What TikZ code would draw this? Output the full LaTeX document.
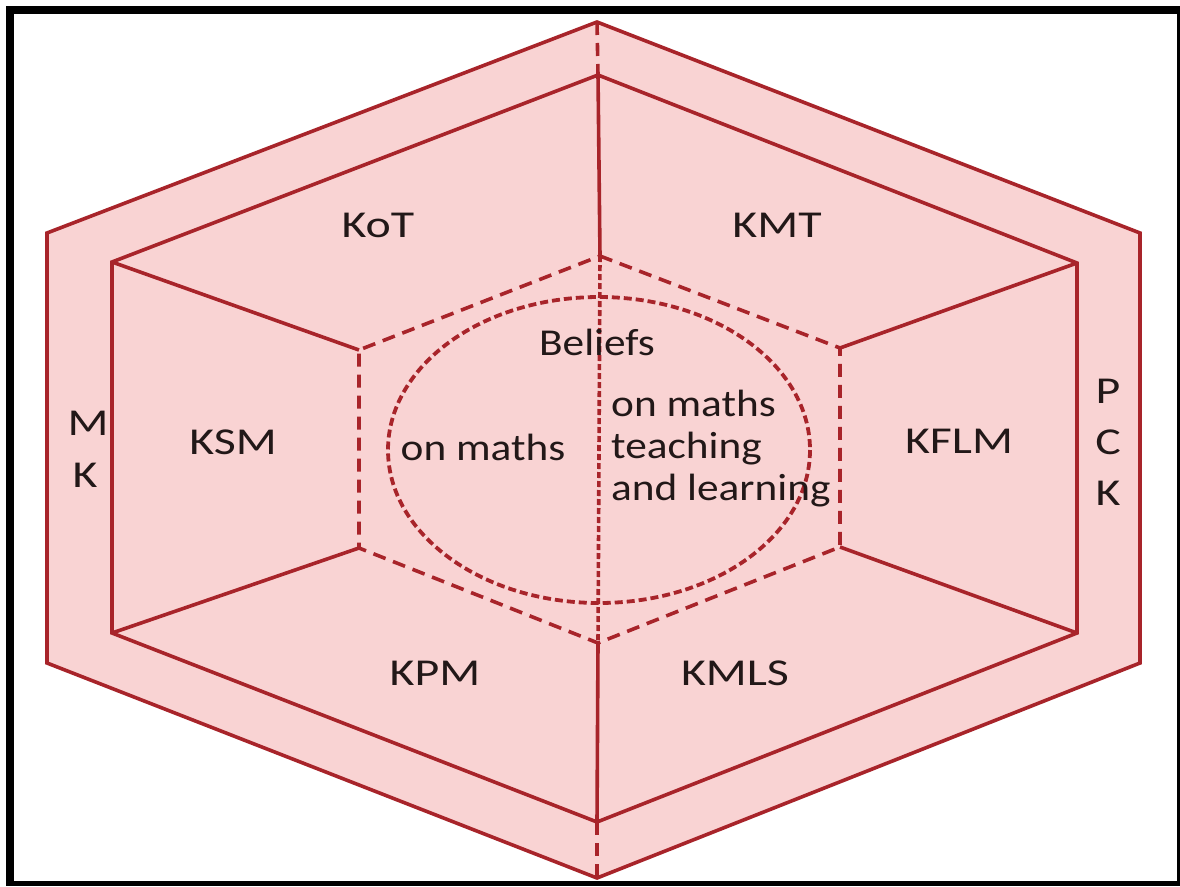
\documentclass[tikz,border=0pt]{standalone}
\usepackage{fontspec}
\setmainfont{Carlito}
\usepackage{graphicx}
\definecolor{hexfill}{RGB}{249,211,211}
\definecolor{hexline}{RGB}{168,36,42}
\definecolor{txt}{RGB}{34,24,24}
\newcommand{\capsx}[1]{\scalebox{1.26}[1]{#1}}
\newcommand{\lowsx}[1]{\scalebox{1.14}[1]{#1}}
\begin{document}
\begin{tikzpicture}[x=1pt,y=-1pt,
  edgeline/.style={draw=hexline,line width=3.6pt,line join=miter},
  dashline/.style={draw=hexline,line width=3.6pt,dash pattern=on 13pt off 8pt},
  fineline/.style={draw=hexline,line width=3.6pt,dash pattern=on 6pt off 3pt},
  ovaline/.style={draw=hexline,line width=3.8pt,dash pattern=on 8pt off 4pt},
  lbl/.style={text=txt,inner sep=0pt,anchor=base,font=\fontsize{38}{42}\selectfont},
  lblw/.style={lbl,anchor=base west}]
\useasboundingbox (0,0) rectangle (1180,886);
% frame
\fill[black] (6,6) rectangle (1180,886);
\fill[white] (14,14) rectangle (1177,881);
% outer hexagon
\coordinate (oT) at (597,22);
\coordinate (oUR) at (1140,233);
\coordinate (oLR) at (1140,663);
\coordinate (oB) at (597,878);
\coordinate (oLL) at (47,663);
\coordinate (oUL) at (47,233);
% inner hexagon
\coordinate (iT) at (598,75);
\coordinate (iUR) at (1077,263);
\coordinate (iLR) at (1077,633);
\coordinate (iB) at (597,822);
\coordinate (iLL) at (112,633);
\coordinate (iUL) at (112,262);
% dashed hexagon
\coordinate (dT) at (600,256);
\coordinate (dUR) at (840,348);
\coordinate (dLR) at (840,547);
\coordinate (dB) at (598,643);
\coordinate (dLL) at (359,548);
\coordinate (dUL) at (359,350);
\coordinate (ec) at (599,450);
\fill[hexfill] (oT) -- (oUR) -- (oLR) -- (oB) -- (oLL) -- (oUL) -- cycle;
\path[edgeline] (oT) -- (oUR) -- (oLR) -- (oB) -- (oLL) -- (oUL) -- cycle;
\path[edgeline] (iT) -- (iUR) -- (iLR) -- (iB) -- (iLL) -- (iUL) -- cycle;
\path[edgeline] (iUL) -- (dUL);
\path[edgeline] (iLL) -- (dLL);
\path[edgeline] (iUR) -- (dUR);
\path[edgeline] (iLR) -- (dLR);
\path[edgeline] (iT) -- (dT);
\path[edgeline] (dB) -- (iB);
\path[dashline] (dT) -- (dUR) -- (dLR) -- (dB) -- (dLL) -- (dUL) -- cycle;
\path[dashline] (oT) -- (iT);
\path[dashline] (iB) -- (oB);
\path[fineline] (dT) -- (dB);
\path[ovaline] (ec) ellipse [x radius=211, y radius=153];
% labels
\node[lbl] (kot) at (378,237) {\capsx{KoT}};
\node[lbl] (kmt) at (777,237) {\capsx{KMT}};
\node[lbl] (ksm) at (233,454) {\capsx{KSM}};
\node[lbl] (kflm) at (959,453) {\capsx{KFLM}};
\node[lbl] (kpm) at (435,685) {\capsx{KPM}};
\node[lbl] (kmls) at (735,685) {\capsx{KMLS}};
\node[lbl] (m1) at (88,435) {\capsx{M}};
\node[lbl] (k1) at (85,487) {\capsx{K}};
\node[lbl] (p2) at (1108,403) {\capsx{P}};
\node[lbl] (c2) at (1108,454) {\capsx{C}};
\node[lbl] (k2) at (1108,505) {\capsx{K}};
\node[lbl] (bel) at (597,355) {\lowsx{Beliefs}};
\node[lbl] (onm) at (483,460) {\lowsx{on maths}};
\node[lblw] (r1) at (611,416) {\lowsx{on maths}};
\node[lblw] (r2) at (611,458) {\lowsx{teaching}};
\node[lblw] (r3) at (611,500) {\lowsx{and learning}};
\end{tikzpicture}
\end{document}
